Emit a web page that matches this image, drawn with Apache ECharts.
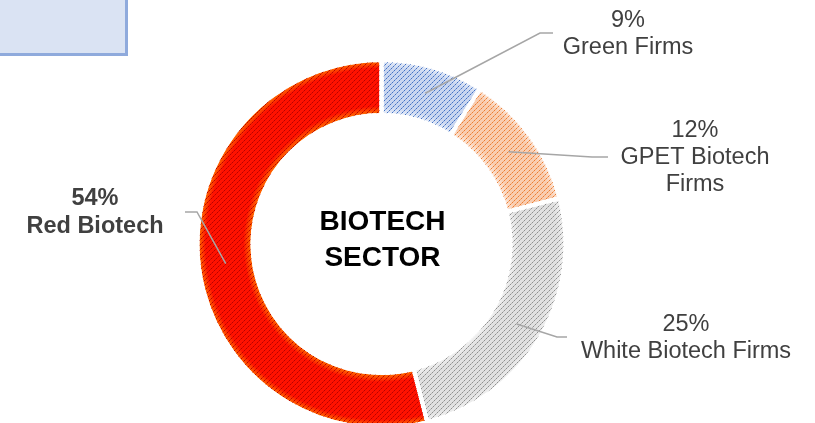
<!DOCTYPE html>
<html>
<head>
<meta charset="utf-8">
<script src="https://cdn.jsdelivr.net/npm/echarts@6/dist/echarts.min.js"></script>
<style>
  html, body { margin: 0; padding: 0; background: #fff; }
  #chart { width: 815px; height: 423px; }
</style>
</head>
<body>
<div id="chart"></div>
<script>
// data
const sectors = ['Green Firms', 'GPET Biotech Firms', 'White Biotech Firms', 'Red Biotech'];
const shares = [9, 12, 25, 54];
const labelTexts = ['9%\nGreen Firms', '12%\nGPET Biotech\nFirms', '25%\nWhite Biotech Firms', '54%\nRed Biotech'];
const centerTitle = 'BIOTECH\nSECTOR';

// look
const cx = 381.5, cy = 244;
const rIn = 129, rOut = 184, rMid = 157;
const fills = [
  { base: '#c9d6f0', edge: '#e4ebf8', line: '#4472c4' },
  { base: '#f9cdb0', edge: '#fce6d8', line: '#ed7d31' },
  { base: '#e0e0e0', edge: '#f0f0f0', line: '#8f8f8f' },
  { base: '#ff1200', edge: '#ff6a00', line: '#b80000' }
];
// where each label sits and where its leader line bends / ends
const spots = [
  { x: 628, y: 34, bend: [540, 33], end: [553, 33] },
  { x: 695, y: 158, bend: [592, 157], end: [608, 157] },
  { x: 686, y: 338, bend: [557, 337], end: [567, 337] },
  { x: 95, y: 213, bend: [197, 212], end: [185, 212] }
];

// dotted "/" hatch, 5px apart
function hatch(color) {
  const c = document.createElement('canvas');
  c.width = 10; c.height = 10;
  const g = c.getContext('2d');
  g.fillStyle = color;
  for (let y = 0; y < 10; y++) {
    for (let x = 0; x < 10; x++) {
      if ((x + y) % 5 === 4) {
        g.globalAlpha = y % 2 === 0 ? 1 : 0.55;
        g.fillRect(x, y, 1, 1);
      }
    }
  }
  return c;
}

function ringGradient(f) {
  return {
    type: 'radial', x: cx, y: cy, r: rOut, global: true,
    colorStops: [
      { offset: 0, color: f.edge },
      { offset: 0.712, color: f.edge },
      { offset: 0.75, color: f.base },
      { offset: 0.955, color: f.base },
      { offset: 0.99, color: f.edge },
      { offset: 1, color: f.edge }
    ]
  };
}

const baseData = sectors.map((name, i) => ({
  name: name, value: shares[i],
  itemStyle: { color: ringGradient(fills[i]) }
}));

const hatchData = sectors.map((name, i) => ({
  name: name, value: shares[i],
  itemStyle: { color: { image: hatch(fills[i].line), repeat: 'repeat' } }
}));

const labelData = sectors.map((name, i) => ({
  name: name, value: shares[i],
  label: { formatter: labelTexts[i], fontWeight: i === 3 ? 'bold' : 'normal', lineHeight: i === 3 ? 28 : 27 }
}));

const ring = {
  type: 'pie', silent: true, center: [cx, cy], radius: [rIn, rOut],
  startAngle: 90, clockwise: true,
  itemStyle: { borderColor: '#fff', borderWidth: 4 },
  label: { show: false }, labelLine: { show: false }
};

const chart = echarts.init(document.getElementById('chart'));
chart.setOption({
  animation: false,
  graphic: [
    {
      type: 'rect', silent: true,
      shape: { x: -10, y: -10, width: 136.5, height: 64.5 },
      style: { fill: '#dae3f3', stroke: '#8faadc', lineWidth: 3 }
    },
    {
      type: 'text', silent: true, x: cx + 1, y: 240,
      style: {
        text: centerTitle, align: 'center', verticalAlign: 'middle',
        font: 'bold 28px "Liberation Sans", Arial, sans-serif', lineHeight: 36, fill: '#000'
      }
    }
  ],
  series: [
    Object.assign({}, ring, { z: 1, data: baseData }),
    Object.assign({}, ring, { z: 2, data: hatchData }),
    {
      type: 'pie', silent: true, z: 3, center: [cx, cy], radius: [rIn, rOut],
      startAngle: 90, clockwise: true, avoidLabelOverlap: false,
      itemStyle: { color: 'rgba(0,0,0,0)', borderWidth: 0 },
      label: {
        show: true, position: 'outside', color: '#404040', fontSize: 23.5,
        fontFamily: '"Liberation Sans", Arial, sans-serif', align: 'center'
      },
      labelLine: { show: true, length: 10, length2: 10, lineStyle: { color: '#a6a6a6', width: 1.5 } },
      labelLayout: function (p) {
        const s = spots[p.dataIndex];
        const p0 = p.labelLinePoints[0];
        const k = rMid / Math.hypot(p0[0] - cx, p0[1] - cy);
        const start = [cx + (p0[0] - cx) * k, cy + (p0[1] - cy) * k];
        return {
          x: s.x, y: s.y, align: 'center', verticalAlign: 'middle',
          labelLinePoints: [start, s.bend, s.end]
        };
      },
      data: labelData
    }
  ]
});
</script>
</body>
</html>
